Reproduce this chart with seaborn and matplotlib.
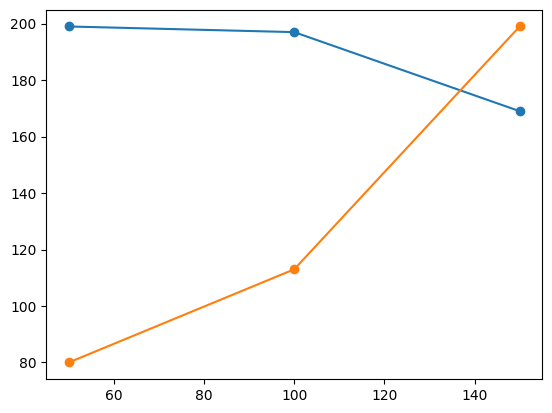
import matplotlib
matplotlib.use("Agg")
import matplotlib.pyplot as plt
import seaborn as sns
import pandas as pd

x_vals = [50, 100, 150]
series_a = [199, 197, 169]
series_b = [80, 113, 199]

fig, ax = plt.subplots(figsize=(6.4, 4.8), dpi=100)
sns.lineplot(x=x_vals, y=series_a, marker="o", markersize=6, markeredgewidth=1,
             markeredgecolor="#1f77b4", color="#1f77b4", ax=ax)
sns.lineplot(x=x_vals, y=series_b, marker="o", markersize=6, markeredgewidth=1,
             markeredgecolor="#ff7f0e", color="#ff7f0e", ax=ax)
fig.savefig("out.png", dpi=100, bbox_inches="tight")
